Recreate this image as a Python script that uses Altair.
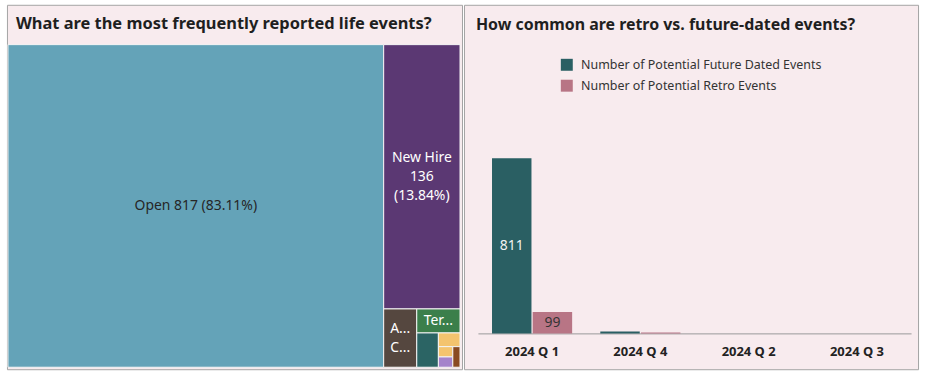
import altair as alt
import pandas as pd

FONT = "Noto Sans"

# ---------------- Treemap data ----------------
event_names = ["Open", "New Hire", "Address Change", "Termination", "Transfer",
               "Job Change", "Marriage", "Birth", "Divorce"]
event_counts = [817, 136, 13, 7, 5, 2, 1, 1, 1]
event_colors = ["#64a3b8", "#5b3873", "#55473f", "#3b7f4b", "#2b6464",
                "#f4c46e", "#f4c46e", "#a583cb", "#8a4b22"]
short_labels = ["", "", "A...\nC...", "Ter...", "", "", "", "", ""]

# ---------------- Bar data ----------------
quarters = ["2024 Q 1", "2024 Q 4", "2024 Q 2", "2024 Q 3"]
future_counts = [811, 9, 0, 0]
retro_counts = [99, 4, 0, 0]
series = ["Number of Potential Future Dated Events", "Number of Potential Retro Events"]
series_colors = ["#2a5f63", "#b87585"]

PANEL_FILL = "#f8ebee"
BORDER = "#a3a3a3"
LINE_H = 19

# ---------- squarified treemap layout (computed from the counts) ----------
TREE_W, TREE_H = 454.0, 324.0


def squarify(values, x, y, w, h):
    total = float(sum(values))
    areas = [v * w * h / total for v in values]
    rects = []

    def worst(row, side):
        s = sum(row)
        return max(max(side * side * r / (s * s), s * s / (side * side * r)) for r in row)

    i = 0
    while i < len(areas):
        side = min(w, h)
        row = [areas[i]]
        j = i + 1
        while j < len(areas) and worst(row + [areas[j]], side) <= worst(row, side):
            row.append(areas[j])
            j += 1
        s = sum(row)
        if w >= h:
            cw = s / h
            yy = y
            for a in row:
                rh = a / cw
                rects.append((x, yy, x + cw, yy + rh))
                yy += rh
            x += cw
            w -= cw
        else:
            rh = s / w
            xx = x
            for a in row:
                rw = a / rh
                rects.append((xx, y, xx + rw, y + rh))
                xx += rw
            y += rh
            h -= rh
        i = j
    return rects


rects = squarify(event_counts, 0.0, 0.0, TREE_W, TREE_H)
total = sum(event_counts)
labels = []
for k, (n, c) in enumerate(zip(event_names, event_counts)):
    pct = c / total * 100
    if k == 0:
        labels.append(f"{n} {c} ({pct:.2f}%)")
    elif k == 1:
        labels.append(f"{n}\n{c}\n({pct:.2f}%)")
    else:
        labels.append(short_labels[k])

tree_df = pd.DataFrame({
    "event": event_names,
    "count": event_counts,
    "x0": [r[0] for r in rects],
    "y0": [r[1] for r in rects],
    "x1": [r[2] for r in rects],
    "y1": [r[3] for r in rects],
    "label": labels,
})
tree_df["cx"] = (tree_df["x0"] + tree_df["x1"]) / 2
# first text line sits so that the whole block is centred in its tile
tree_df["nlines"] = tree_df["label"].str.count("\n") + 1
tree_df["ty"] = (tree_df["y0"] + tree_df["y1"]) / 2 - (tree_df["nlines"] - 1) * LINE_H / 2

xs = alt.Scale(domain=[0, TREE_W], range=[1, 455])
ys = alt.Scale(domain=[0, TREE_H], range=[40, 364])

tiles = alt.Chart(tree_df).mark_rect(stroke="#f4f4f4", strokeWidth=1).encode(
    x=alt.X("x0:Q", scale=xs, axis=None),
    x2="x1:Q",
    y=alt.Y("y0:Q", scale=ys, axis=None),
    y2="y1:Q",
    color=alt.Color("event:N", scale=alt.Scale(domain=event_names, range=event_colors), legend=None),
)

tile_text = alt.Chart(tree_df).mark_text(
    font=FONT, fontSize=14, lineBreak="\n", lineHeight=LINE_H, baseline="middle", align="center"
).encode(
    x=alt.X("cx:Q", scale=xs, axis=None),
    y=alt.Y("ty:Q", scale=ys, axis=None),
    text="label:N",
    color=alt.condition(alt.datum.event == "Open", alt.value("#262626"), alt.value("#ffffff")),
)

left = alt.layer(tiles, tile_text).properties(
    width=457,
    height=366,
    title=alt.TitleParams(
        "What are the most frequently reported life events?",
        anchor="start", frame="group", orient="top", offset=-26, dx=9, dy=15,
        baseline="alphabetic", font=FONT, fontSize=16.5, fontWeight="bold", color="#1f1f1f",
    ),
    view=alt.ViewBackground(fill=PANEL_FILL, stroke=BORDER, strokeWidth=1),
)

# ---------------- bar panel ----------------
bars_df = pd.DataFrame({
    "quarter": quarters * 2,
    "series": [series[0]] * len(quarters) + [series[1]] * len(quarters),
    "value": future_counts + retro_counts,
})

xq = alt.X(
    "quarter:N", sort=quarters,
    scale=alt.Scale(range=[14, 449], paddingInner=0.26, paddingOuter=0.13),
    axis=alt.Axis(title=None, labelAngle=0, ticks=False, grid=False, domainColor="#9a9a9a",
                  labelFont=FONT, labelFontSize=13, labelFontWeight="bold", labelColor="#222222",
                  labelPadding=12, offset=-36),
)
xo = alt.XOffset("series:N", sort=series, scale=alt.Scale(paddingInner=0.03))
yscale = alt.Scale(domain=[0, 1000], range=[330, 113])

bars = alt.Chart(bars_df).mark_bar().encode(
    x=xq,
    xOffset=xo,
    y=alt.Y("value:Q", scale=yscale, axis=None),
    color=alt.Color(
        "series:N", sort=series,
        scale=alt.Scale(domain=series, range=series_colors),
        legend=alt.Legend(orient="none", legendX=97, legendY=54, title=None, symbolType="square",
                          symbolSize=144, symbolStrokeWidth=0, labelFont=FONT, labelFontSize=12.5,
                          labelColor="#333333", labelOffset=8, rowPadding=8, padding=0, labelLimit=400),
    ),
)

bar_text = alt.Chart(bars_df).transform_filter("datum.value >= 20").transform_calculate(
    mid="datum.value / 2"
).mark_text(font=FONT, fontSize=14, baseline="middle", align="center").encode(
    x=xq,
    xOffset=xo,
    y=alt.Y("mid:Q", scale=yscale, axis=None),
    text="value:Q",
    color=alt.condition(alt.datum.series == series[0], alt.value("#f2f2f2"), alt.value("#333333")),
)

right = alt.layer(bars, bar_text).properties(
    width=456,
    height=366,
    title=alt.TitleParams(
        "How common are retro vs. future-dated events?",
        anchor="start", frame="group", orient="top", offset=-26, dx=12, dy=15,
        baseline="alphabetic", font=FONT, fontSize=16, fontWeight="bold", color="#1f1f1f",
    ),
    view=alt.ViewBackground(fill=PANEL_FILL, stroke=BORDER, strokeWidth=1),
)

chart = alt.hconcat(left, right, spacing=0).resolve_scale(
    color="independent"
).properties(
    padding={"left": 6, "top": 3, "right": 7, "bottom": 8},
    background="white",
).configure_view(stroke=None)

chart.save("out.html", embed_options={"renderer": "svg", "actions": False})
